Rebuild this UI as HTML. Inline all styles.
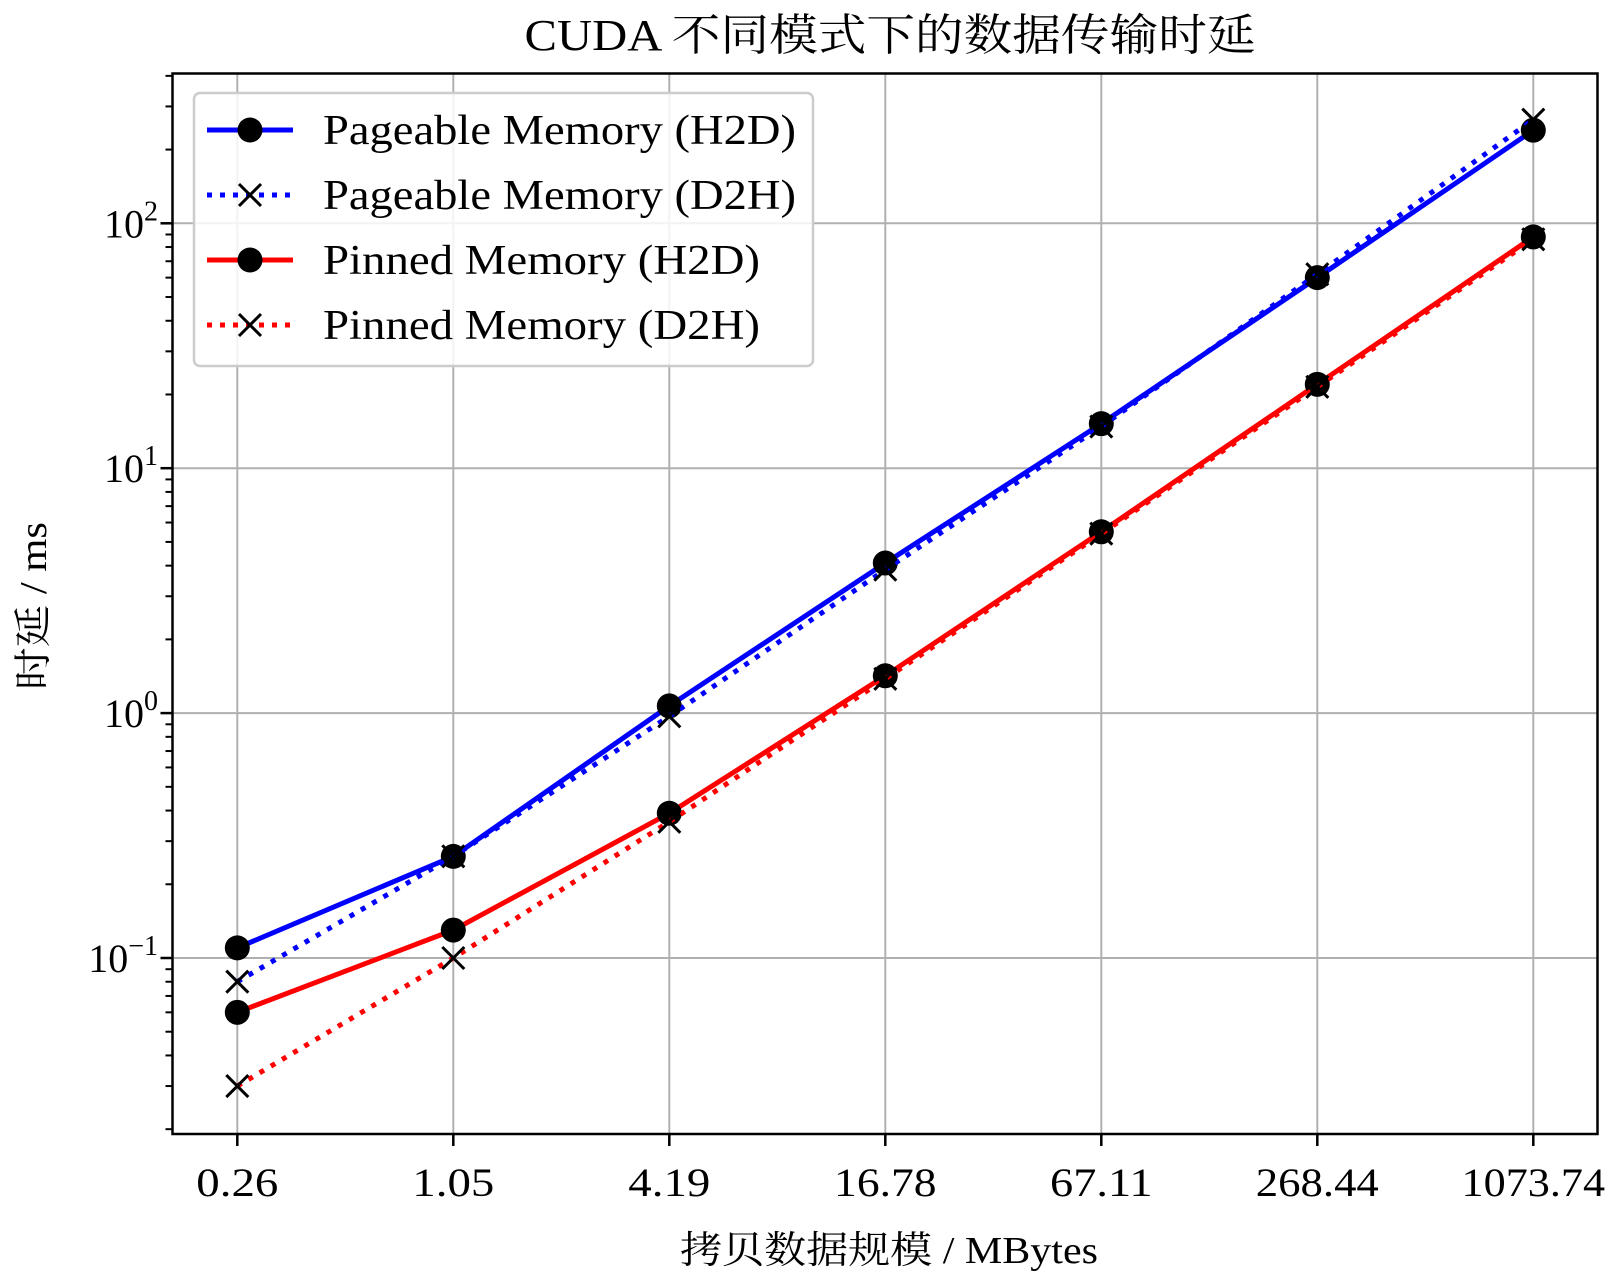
<!DOCTYPE html>
<html><head><meta charset="utf-8"><style>
html,body{margin:0;padding:0;background:#fff;}
svg{display:block;font-family:"Liberation Serif","Noto Serif CJK SC",serif;}
</style></head><body>
<svg id="chart" width="1612" height="1278" viewBox="0 0 1612 1278" xmlns="http://www.w3.org/2000/svg">
<text x="890" y="50" font-size="44" text-anchor="middle" textLength="731" lengthAdjust="spacingAndGlyphs">CUDA 不同模式下的数据传输时延</text>
<g id="grid"></g>
<g id="axes"></g>
<g id="series"></g>
<rect x="172.5" y="73.5" width="1425" height="1060.5" fill="none" stroke="#000" stroke-width="2.5"/>
<text transform="translate(46,606) rotate(-90)" font-size="38" text-anchor="middle" textLength="168" lengthAdjust="spacingAndGlyphs">时延 / ms</text>
<text x="889" y="1263" font-size="38" text-anchor="middle" textLength="418" lengthAdjust="spacingAndGlyphs">拷贝数据规模 / MBytes</text>
<g id="legend"></g>
</svg>
<script>
const categories = ["0.26","1.05","4.19","16.78","67.11","268.44","1073.74"];
const pageableH2D = [0.11,0.26,1.07,4.1,15.2,60,240];
const pageableD2H = [0.08,0.26,0.97,3.85,14.8,62,265];
const pinnedH2D = [0.06,0.13,0.39,1.42,5.5,22,88];
const pinnedD2H = [0.03,0.10,0.36,1.38,5.4,21.5,86];
const yTickExps = [-1,0,1,2];
const seriesNames = ["Pageable Memory (H2D)","Pageable Memory (D2H)","Pinned Memory (H2D)","Pinned Memory (D2H)"];
const legendWidths = [473,473,437,437];

const NS="http://www.w3.org/2000/svg";
const L=172.5,R=1597.5,T=73.5,B=1134;
const x0=237.3,dx=216;
const yRef=958,perDec=244.9;
function xScale(i){return x0+i*dx;}
function yScale(v){return yRef-perDec*(Math.log10(v)+1);}
function mk(tag,attrs,parent){const e=document.createElementNS(NS,tag);for(const k in attrs)e.setAttribute(k,attrs[k]);parent.appendChild(e);return e;}
const grid=document.getElementById('grid'),axes=document.getElementById('axes'),ser=document.getElementById('series'),leg=document.getElementById('legend');

categories.forEach((c,i)=>{
  const x=xScale(i);
  const g=mk('line',{x1:x,x2:x,y1:T,y2:B,stroke:'#b0b0b0','stroke-width':2},grid);
  
  
  const t=mk('line',{x1:x,x2:x,y1:B,y2:B+12,stroke:'#000','stroke-width':2.5},axes);
  
  
  const lb=mk('text',{x:x,y:1196,'font-size':40,'text-anchor':'middle',textLength:c.length*20.5,lengthAdjust:'spacingAndGlyphs'},axes);
  lb.textContent=c;
  
  
});
yTickExps.forEach(e=>{
  const y=yScale(Math.pow(10,e));
  const g=mk('line',{x1:L,x2:R,y1:y,y2:y,stroke:'#b0b0b0','stroke-width':2},grid);
  
  
  const t=mk('line',{x1:L-12,x2:L,y1:y,y2:y,stroke:'#000','stroke-width':2.5},axes);
  
  
  const lb=mk('text',{x:158,y:y+14,'font-size':40,'text-anchor':'end'},axes);
  
  
  const a=mk('tspan',{},lb);a.textContent='10';
  const b=mk('tspan',{dy:-17,'font-size':28},lb);b.textContent=(e<0?'\u2212':'')+Math.abs(e);
});
for(let e=-2;e<=2;e++){for(let m=2;m<=9;m++){const v=m*Math.pow(10,e);const y=yScale(v);if(y<T||y>B)continue;
  const t=mk('line',{x1:L-7,x2:L,y1:y,y2:y,stroke:'#000','stroke-width':2},axes);
  
  
}}

const defs=[[pageableH2D,'#0000ff',false],[pageableD2H,'#0000ff',true],[pinnedH2D,'#ff0000',false],[pinnedD2H,'#ff0000',true]];
function marker(x,y,cross,parent){
  if(cross){const s=11;
    mk('path',{d:`M${x-s},${y-s}L${x+s},${y+s}M${x-s},${y+s}L${x+s},${y-s}`,stroke:'#000','stroke-width':3,fill:'none'},parent);}
  else mk('circle',{cx:x,cy:y,r:12.5,fill:'#000'},parent);
}
defs.forEach(([data,col,dotted],si)=>{
  const g=mk('g',{},ser);
  
  
  const pts=data.map((v,i)=>xScale(i)+','+yScale(v)).join(' ');
  const pl=mk('polyline',{points:pts,fill:'none',stroke:col,'stroke-width':5},g);
  if(dotted)pl.setAttribute('stroke-dasharray','5,8');
  data.forEach((v,i)=>marker(xScale(i),yScale(v),dotted,g));
});

const box=mk('rect',{x:194,y:93,width:619,height:273,rx:6,fill:'#fff','fill-opacity':0.85,stroke:'#cccccc','stroke-width':2.5},leg);


defs.forEach(([data,col,dotted],i)=>{
  const y=130+i*65;
  const g=mk('g',{},leg);
  
  
  const ln=mk('line',{x1:207,x2:293,y1:y,y2:y,stroke:col,'stroke-width':5},g);
  if(dotted)ln.setAttribute('stroke-dasharray','5,8');
  marker(250,y,dotted,g);
  const tx=mk('text',{x:323,y:y+14,'font-size':42,textLength:legendWidths[i],lengthAdjust:'spacingAndGlyphs'},g);
  tx.textContent=seriesNames[i];
});
</script>
</body></html>
